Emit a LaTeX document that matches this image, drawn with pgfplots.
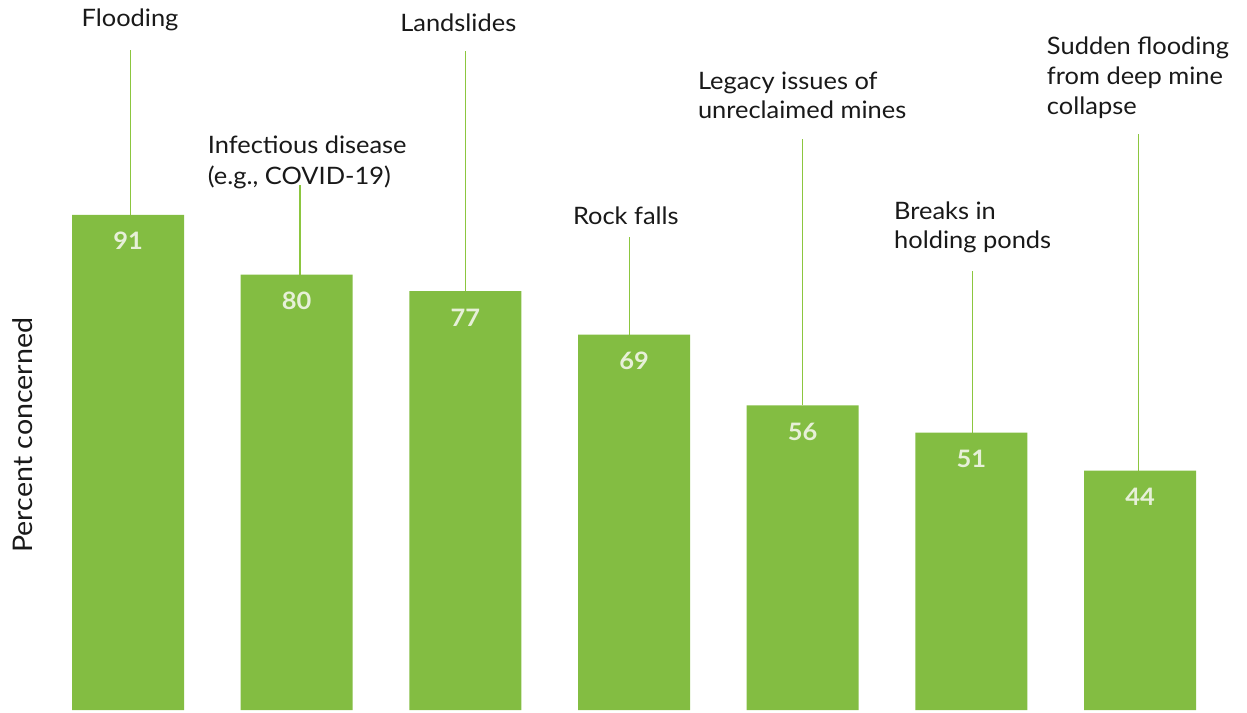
\documentclass[border=0pt]{standalone}
\usepackage{pgfplots}
\pgfplotsset{compat=1.18}
\usepackage{fontspec}
\setmainfont{Lato}[FakeStretch=1.06]
\definecolor{barcol}{RGB}{131,189,66}
\definecolor{numcol}{RGB}{231,240,216}
\definecolor{linecol}{RGB}{140,198,63}
\definecolor{txtcol}{RGB}{25,25,25}
\begin{document}
\begin{tikzpicture}
\begin{axis}[
  scale only axis,
  width=1247pt, height=712pt,
  xmin=-0.7589, xmax=6.634,
  ymin=-0.37, ymax=130.5,
  hide axis, clip=false,
  /pgf/number format/assume math mode=true,
  every node near coord/.append style={anchor=base, yshift=-35pt, inner sep=0pt,
     font=\fontsize{24}{28}\selectfont\bfseries, text=numcol},
]
\path (rel axis cs:0,0) rectangle (rel axis cs:1,1);
% leader lines
\addplot[linecol, line width=1.5pt] coordinates {(0.014,91) (0.014,121.3)};
\addplot[linecol, line width=1.5pt] coordinates {(1.020,80) (1.020,96.5)};
\addplot[linecol, line width=1.5pt] coordinates {(2.001,77) (2.001,121.1)};
\addplot[linecol, line width=1.5pt] coordinates {(2.972,69) (2.972,86.9)};
\addplot[linecol, line width=1.5pt] coordinates {(3.998,56) (3.998,105.0)};
\addplot[linecol, line width=1.5pt] coordinates {(5.008,51) (5.008,80.7)};
\addplot[linecol, line width=1.5pt] coordinates {(5.992,44) (5.992,105.9)};
% bars
\addplot[ybar, bar width=112pt, fill=barcol, draw=none, nodes near coords]
  coordinates {(0,91) (1,80) (2,77) (3,69) (4,56) (5,51) (6,44)};
% category labels
\begin{scope}[every node/.style={inner sep=0pt, font=\fontsize{24}{29}\selectfont, text=txtcol}]
\node[anchor=base] at (axis cs:0.012,125.7) {Flooding};
\node[anchor=base west] at (axis cs:0.4725,102.2) {Infectious disease};
\node[anchor=base west] at (axis cs:0.4725,96.5) {(e.g., COVID-19)};
\node[anchor=base] at (axis cs:1.958,124.8) {Landslides};
\node[anchor=base west] at (axis cs:2.637,89.2) {Rock falls};
\node[anchor=base west] at (axis cs:3.378,114.0) {Legacy issues of};
\node[anchor=base west] at (axis cs:3.378,108.75) {unreclaimed mines};
\node[anchor=base west] at (axis cs:4.541,90.1) {Breaks in};
\node[anchor=base west] at (axis cs:4.541,84.8) {holding ponds};
\node[anchor=base west] at (axis cs:5.447,120.4) {Sudden flooding};
\node[anchor=base west] at (axis cs:5.447,115.0) {from deep mine};
\node[anchor=base west] at (axis cs:5.447,109.5) {collapse};
\node[anchor=base, rotate=90, font=\fontsize{27}{32}\selectfont] at (axis cs:-0.569,50.5) {Percent concerned};
\end{scope}
\end{axis}
\end{tikzpicture}
\end{document}
